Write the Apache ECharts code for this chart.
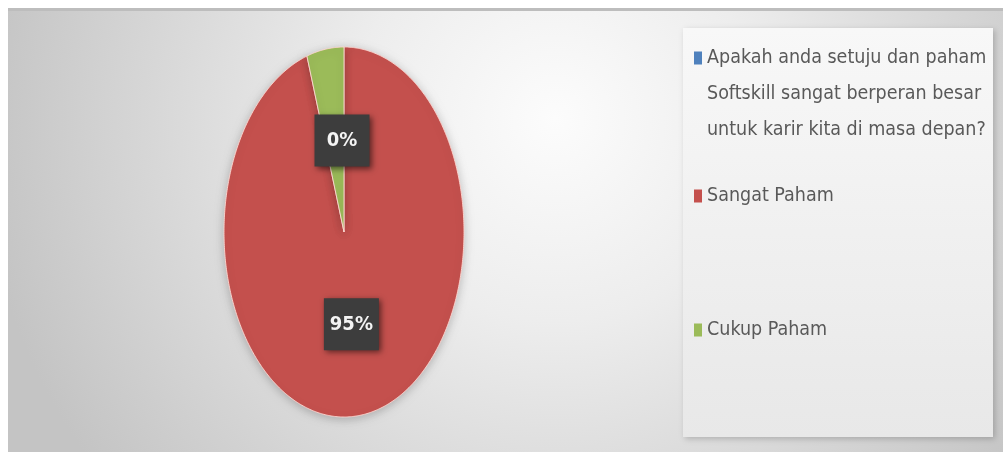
<!DOCTYPE html>
<html>
<head>
<meta charset="utf-8">
<script src="https://cdn.jsdelivr.net/npm/echarts@6/dist/echarts.min.js"></script>
<style>
html,body{margin:0;padding:0;background:#fff;}
#chart{width:1003px;height:452px;}
</style>
</head>
<body>
<div id="chart"></div>
<script>
const categories = [
  'Apakah anda setuju dan paham Softskill sangat berperan besar untuk karir kita di masa depan?',
  'Sangat Paham',
  'Cukup Paham'
];
const values = [0, 95, 5];
const showLabel = [true, true, false];
const colors = ['#4F81BD', '#C4504D', '#9BBB59'];

const FONT = "'DejaVu Sans Condensed', 'Liberation Sans Narrow', 'Noto Sans', sans-serif";
const total = values.reduce((a, b) => a + b, 0);

function makeRender(idx) {
  return function (params, api) {
    const cx = 344, cy = 232, rx = 120, ry = 185;
    let start = 0;
    for (let i = 0; i < idx; i++) start += values[i];
    const v = api.value(0);
    const a0 = start / total * 2 * Math.PI;
    const a1 = (start + v) / total * 2 * Math.PI;
    const children = [];
    if (v > 0) {
      const pts = [[cx, cy]];
      const n = Math.max(4, Math.ceil((a1 - a0) / 0.01));
      for (let k = 0; k <= n; k++) {
        const a = a0 + (a1 - a0) * k / n;
        pts.push([cx + rx * Math.sin(a), cy - ry * Math.cos(a)]);
      }
      children.push({
        type: 'polygon',
        shape: { points: pts },
        style: {
          fill: colors[idx],
          stroke: 'rgba(255,215,210,0.9)',
          lineWidth: 1,
          shadowBlur: 10,
          shadowColor: 'rgba(0,0,0,0.22)',
          shadowOffsetY: 2
        }
      });
    }
    if (showLabel[idx]) {
      const am = (a0 + a1) / 2;
      const pct = Math.round(v / total * 100) + '%';
      children.push({
        type: 'text',
        z2: 100,
        x: cx + rx * 0.5 * Math.sin(am) - 2,
        y: cy - ry * 0.5 * Math.cos(am) + 1,
        style: {
          text: pct,
          fill: '#f4f4f4',
          font: "bold 20px " + FONT,
          align: 'center',
          verticalAlign: 'middle',
          width: 33,
          height: 22,
          backgroundColor: '#3d3d3d',
          padding: [15, 11],
          shadowBlur: 6,
          shadowColor: 'rgba(0,0,0,0.55)',
          shadowOffsetX: 2,
          shadowOffsetY: 2
        }
      });
    }
    return { type: 'group', children: children };
  };
}

const series = categories.map((name, i) => ({
  type: 'custom',
  name: name,
  coordinateSystem: 'none',
  itemStyle: { color: colors[i] },
  renderItem: makeRender(i),
  data: [[values[i]]]
}));

const legendText = { color: '#595959', fontSize: 19.5, fontFamily: FONT, lineHeight: 36 };

const chart = echarts.init(document.getElementById('chart'));
chart.setOption({
  animation: false,
  graphic: [
    {
      type: 'rect', z: -10,
      shape: { x: 8, y: 8, width: 995, height: 444 },
      style: {
        fill: {
          type: 'radial', x: 0.55, y: 0.25, r: 1.3,
          colorStops: [
            { offset: 0, color: '#fcfcfc' },
            { offset: 0.35, color: '#ededed' },
            { offset: 1, color: '#c4c4c4' }
          ]
        }
      }
    },
    {
      type: 'rect', z: -10,
      shape: { x: 8, y: 8, width: 995, height: 3 },
      style: { fill: '#bdbdbd' }
    },
    {
      type: 'rect', z: -9,
      shape: { x: 683, y: 28, width: 310, height: 409 },
      style: {
        fill: {
          type: 'linear', x: 0, y: 0, x2: 0, y2: 1,
          colorStops: [
            { offset: 0, color: '#f8f8f8' },
            { offset: 1, color: '#e8e8e8' }
          ]
        },
        shadowBlur: 6,
        shadowColor: 'rgba(0,0,0,0.2)',
        shadowOffsetX: 2,
        shadowOffsetY: 2
      }
    }
  ],
  legend: [
    {
      data: [categories[0]], orient: 'vertical', left: 694, top: -32, padding: 0,
      icon: 'rect', itemWidth: 8, itemHeight: 13, selectedMode: false,
      formatter: name => '\n\n' + name,
      textStyle: Object.assign({ width: 300, overflow: 'break' }, legendText)
    },
    {
      data: [categories[1]], orient: 'vertical', left: 694, top: 178, padding: 0,
      icon: 'rect', itemWidth: 8, itemHeight: 13, selectedMode: false,
      textStyle: legendText
    },
    {
      data: [categories[2]], orient: 'vertical', left: 694, top: 312, padding: 0,
      icon: 'rect', itemWidth: 8, itemHeight: 13, selectedMode: false,
      textStyle: legendText
    }
  ],
  series: series
});
</script>
</body>
</html>
